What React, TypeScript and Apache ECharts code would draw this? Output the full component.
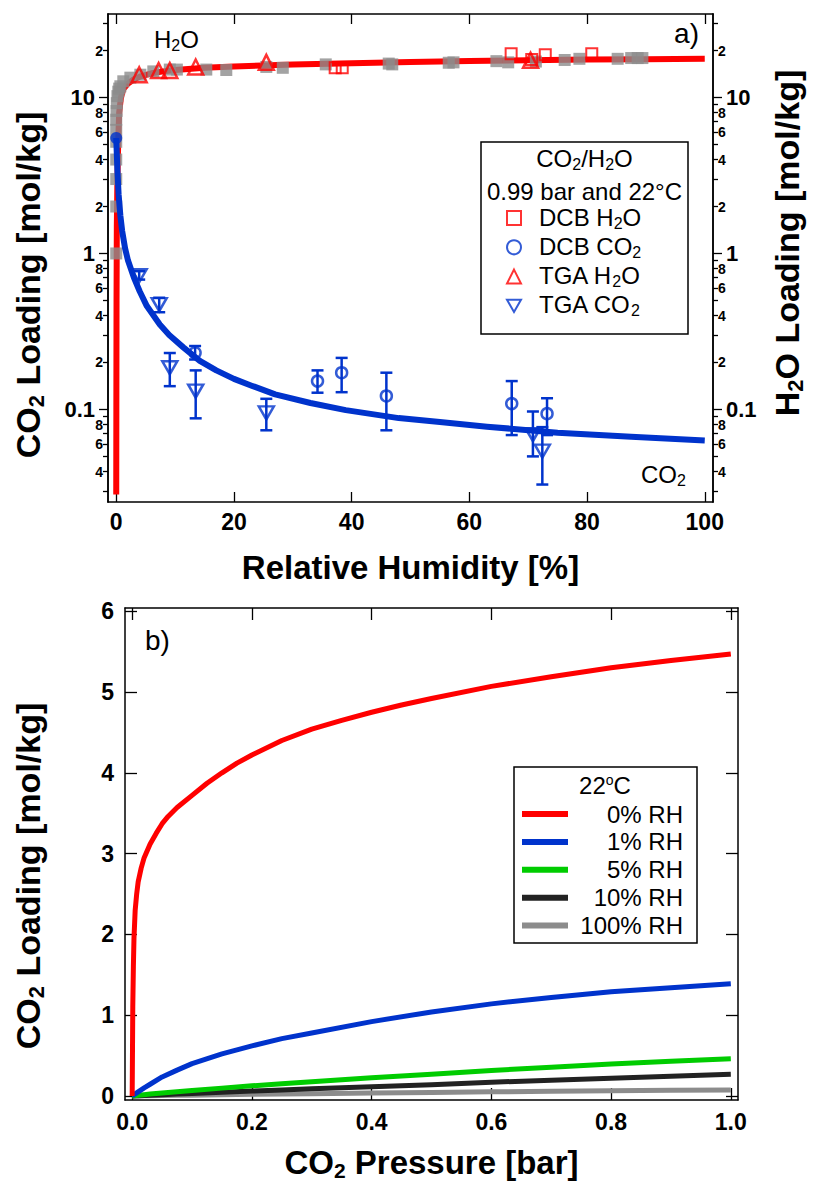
import React, { useEffect, useRef } from 'react';
import * as echarts from 'echarts';

const FONT = '"Liberation Sans", Arial, Helvetica, sans-serif';
const RED = '#ff0000';
const BLUE = '#0033cc';
const GRAY = '#8c8c8c';
const GREEN = '#00cc00';
const BLACK = '#222222';
const DOWN_TRIANGLE = 'path://M0,0L10,0L5,8.66Z';

// ---------- Panel a) ----------
const rhTicks = [0, 20, 40, 60, 80, 100];
const logMajorValues = [0.1, 1, 10];
const logMinorTickValues = [0.03, 0.04, 0.05, 0.06, 0.07, 0.08, 0.09, 0.2, 0.3, 0.4, 0.5, 0.6, 0.7, 0.8, 0.9, 2, 3, 4, 5, 6, 7, 8, 9, 20, 30];
const logMinorLabelValues = [0.04, 0.06, 0.08, 0.2, 0.4, 0.6, 0.8, 2, 4, 6, 8, 20];

const h2oFitRH = [0, 0.02, 0.05, 0.1, 0.2, 0.35, 0.5, 0.8, 1.2, 2, 3, 4, 6, 8, 10, 15, 20, 30, 40, 50, 60, 70, 80, 90, 100];
const h2oFitLoading = [0.0285, 0.1, 0.5, 1.5, 3, 5.5, 8, 10, 11.3, 12.3, 13.1, 13.6, 14.3, 14.7, 15.0, 15.5, 15.8, 16.3, 16.6, 16.9, 17.15, 17.35, 17.5, 17.6, 17.7];

const co2FitRH = [0, 0.1, 0.2, 0.4, 0.7, 1.0, 1.5, 2, 3, 4, 5.2, 7.4, 9, 11.4, 14.2, 17, 20, 23, 27, 33, 39, 48, 55, 63, 75, 87.5, 100];
const co2FitLoading = [5.5, 4.3, 3.4, 2.4, 1.75, 1.4, 1.08, 0.9, 0.7, 0.57, 0.46, 0.35, 0.3, 0.25, 0.205, 0.178, 0.157, 0.142, 0.125, 0.11, 0.099, 0.088, 0.083, 0.0775, 0.071, 0.0668, 0.0632];

const grayRH = [0, 0, 0, 0, 0, 0, 0, 0.05, 0.1, 0.2, 0.35, 0.5, 0.7, 1.2, 2.4, 4.1, 6.3, 9.1, 10.3, 15.3, 18.7, 25.5, 28.3, 35.6, 46.3, 46.9, 56.5, 57.3, 64.6, 66.6, 71.3, 76.2, 78.7, 85.2, 87.5, 88.6, 89.4];
const grayLoading = [1.0, 2.0, 3.0, 4.0, 5.2, 6.2, 7.2, 8.2, 9.2, 10.2, 10.9, 11.4, 11.8, 12.7, 13.4, 14.0, 14.7, 15.1, 15.1, 15.1, 15.0, 15.7, 15.5, 16.3, 16.5, 16.3, 16.7, 16.8, 17.1, 16.8, 17.0, 17.4, 17.7, 17.7, 17.9, 17.9, 17.9];

const dcbH2oRH = [37.2, 38.4, 67.1, 70.6, 72.9, 80.8];
const dcbH2oLoading = [15.5, 15.5, 19.1, 17.5, 18.8, 19.1];

const tgaH2oRH = [3.9, 7.2, 9.1, 13.5, 25.5, 70.4];
const tgaH2oLoading = [14.0, 14.9, 14.9, 15.7, 16.8, 17.3];

const dcbCo2RH = [13.4, 34.2, 38.3, 45.9, 67.2, 73.2];
const dcbCo2Loading = [0.231, 0.152, 0.172, 0.122, 0.109, 0.094];
const dcbCo2Low = [0.209, 0.128, 0.129, 0.0735, 0.0685, 0.0685];
const dcbCo2High = [0.255, 0.178, 0.214, 0.172, 0.152, 0.118];

const tgaCo2RH = [3.9, 7.3, 9.1, 13.5, 25.5, 70.8, 72.4];
const tgaCo2Loading = [0.72, 0.47, 0.185, 0.131, 0.095, 0.069, 0.054];
const tgaCo2Low = [0.68, 0.42, 0.141, 0.0877, 0.0735, 0.05, 0.033];
const tgaCo2High = [0.77, 0.52, 0.23, 0.178, 0.117, 0.097, 0.077];

const co2StartRH = [0];
const co2StartLoading = [5.5];

// ---------- Panel b) ----------
const pressureTicks = [0, 0.2, 0.4, 0.6, 0.8, 1.0];
const loadingTicks = [0, 1, 2, 3, 4, 5, 6];
const pressure0 = [0, 0.001, 0.002, 0.003, 0.005, 0.0075, 0.01, 0.015, 0.02, 0.03, 0.04, 0.05, 0.06, 0.075, 0.1, 0.125, 0.15, 0.175, 0.2, 0.25, 0.3, 0.35, 0.4, 0.45, 0.5, 0.6, 0.7, 0.8, 0.9, 1.0];
const rh0 = [0, 1.1, 1.6, 1.95, 2.3, 2.5, 2.65, 2.82, 2.95, 3.12, 3.25, 3.37, 3.46, 3.57, 3.72, 3.87, 4.0, 4.12, 4.22, 4.4, 4.54, 4.65, 4.75, 4.84, 4.92, 5.07, 5.19, 5.3, 5.39, 5.47];
const pressure = [0, 0.002, 0.005, 0.01, 0.02, 0.03, 0.05, 0.075, 0.1, 0.15, 0.2, 0.25, 0.3, 0.4, 0.5, 0.6, 0.7, 0.8, 0.9, 1.0];
const rh1 = [0, 0.01, 0.025, 0.05, 0.1, 0.145, 0.235, 0.32, 0.4, 0.52, 0.62, 0.71, 0.78, 0.92, 1.04, 1.14, 1.22, 1.29, 1.34, 1.39];
const rh5 = [0, 0.002, 0.004, 0.008, 0.016, 0.023, 0.037, 0.053, 0.068, 0.097, 0.125, 0.15, 0.175, 0.225, 0.27, 0.315, 0.355, 0.395, 0.43, 0.46];
const rh10 = [0, 0.0006, 0.0015, 0.003, 0.006, 0.009, 0.015, 0.023, 0.03, 0.045, 0.06, 0.075, 0.09, 0.115, 0.14, 0.17, 0.195, 0.22, 0.245, 0.27];
const rh100 = [0, 0.0002, 0.0005, 0.001, 0.002, 0.003, 0.005, 0.0075, 0.01, 0.015, 0.02, 0.024, 0.028, 0.036, 0.044, 0.051, 0.058, 0.064, 0.07, 0.075];
const rhSeriesNames = ['0% RH', '1% RH', '5% RH', '10% RH', '100% RH'];
const rhSeriesX = [pressure0, pressure, pressure, pressure, pressure];
const rhSeriesValues = [rh0, rh1, rh5, rh10, rh100];
const rhSeriesColors = [RED, BLUE, GREEN, BLACK, GRAY];

function zip(xs: number[], ys: number[]) {
  return xs.map((x, i) => [x, ys[i]]);
}

function rich(size: number, bold = false, padL = 0, padR = 0) {
  const w = bold ? 'bold' : 'normal';
  const base = { fontWeight: w, fontFamily: FONT, color: '#000', verticalAlign: 'top' };
  return {
    t: { ...base, fontSize: size, lineHeight: size },
    tl: { ...base, fontSize: size, lineHeight: size, padding: [0, 0, 0, padL] },
    tr: { ...base, fontSize: size, lineHeight: size, padding: [0, padR, 0, 0] },
    tp: { ...base, fontSize: size, lineHeight: size, padding: [0, 0, 0, 13] },
    s: { ...base, fontSize: Math.round(size * 0.65), padding: [Math.round(size * 0.42), 0, 0, 0] },
    u: { ...base, fontSize: Math.round(size * 0.6), lineHeight: Math.round(size * 0.45) },
    r: { ...base, fontSize: size, lineHeight: size, width: 110, align: 'right' },
  };
}

const majorFmt = (v: number) => (v >= 1 ? String(Math.round(v)) : String(+v.toPrecision(1)));
const minorFmt = (v: number) => String(Math.round(v / Math.pow(10, Math.floor(Math.log10(v) + 1e-9))));

function errorBarSeries(name: string, xs: number[], ys: number[], lo: number[], hi: number[]) {
  return {
    type: 'custom',
    name,
    xAxisIndex: 0,
    yAxisIndex: 0,
    z: 5,
    data: xs.map((x, i) => [x, ys[i], lo[i], hi[i]]),
    encode: { x: 0, y: [2, 3] },
    renderItem: (params: any, api: any) => {
      const x = api.value(0);
      const pLo = api.coord([x, api.value(2)]);
      const pHi = api.coord([x, api.value(3)]);
      const cap = 6;
      const style = { stroke: BLUE, lineWidth: 2.5 };
      return {
        type: 'group',
        children: [
          { type: 'line', shape: { x1: pLo[0], y1: pLo[1], x2: pHi[0], y2: pHi[1] }, style },
          { type: 'line', shape: { x1: pLo[0] - cap, y1: pLo[1], x2: pLo[0] + cap, y2: pLo[1] }, style },
          { type: 'line', shape: { x1: pHi[0] - cap, y1: pHi[1], x2: pHi[0] + cap, y2: pHi[1] }, style },
        ],
      };
    },
  };
}

const axisLine = { show: true, onZero: false, lineStyle: { color: '#000', width: 1.5 } };
const tickLine = { color: '#000', width: 1.3 };
const LOG_MIN = 0.0255;
const LOG_MAX = 34.3;
const TICK_FONT = 23;
const TITLE_FONT = 34;

function logAxis(position: string, major: boolean, withName: boolean) {
  const ax: any = {
    type: 'log',
    gridIndex: 0,
    position,
    logBase: 10,
    min: LOG_MIN,
    max: LOG_MAX,
    splitLine: { show: false },
    minorTick: { show: false },
    axisLine,
    axisTick: {
      show: true,
      inside: false,
      length: major ? 9 : 5,
      customValues: major ? logMajorValues : logMinorTickValues,
      lineStyle: tickLine,
    },
    axisLabel: {
      show: true,
      customValues: major ? logMajorValues : logMinorLabelValues,
      formatter: major ? majorFmt : minorFmt,
      fontSize: major ? 22 : 14,
      fontWeight: 'bold',
      fontFamily: FONT,
      color: '#000',
      margin: major ? 13 : 5,
    },
  };
  if (withName) {
    ax.name =
      position === 'left'
        ? '{t|CO}{s|2}{tr| Loading [mol/kg]}'
        : '{tl|H}{s|2}{t|O Loading [mol/kg]}';
    ax.nameLocation = 'middle';
    ax.nameRotate = 90;
    ax.nameGap = position === 'left' ? 61 : 57;
    ax.nameTextStyle = { rich: rich(TITLE_FONT, true, 30, 54) };
  }
  return ax;
}

const legendANames: Record<string, string> = {
  'DCB H2O': '{tp|DCB H}{s|2}{t|O}',
  'DCB CO2': '{tp|DCB CO}{s|2}',
  'TGA H2O': '{tp|TGA H}{s|2}{t|O}',
  'TGA CO2': '{tp|TGA CO}{s|2}',
};

function buildOption(): any {
  const hollow = (c: string) => ({ color: 'rgba(255,255,255,0)', borderColor: c, borderWidth: 2.5 });
  const tickLabel = { fontSize: TICK_FONT, fontWeight: 'bold', fontFamily: FONT, color: '#000' };
  return {
    animation: false,
    backgroundColor: '#fff',
    grid: [
      { left: 108, top: 14, width: 608, height: 488 },
      { left: 125, top: 608, width: 613, height: 492 },
    ],
    xAxis: [
      {
        type: 'value', gridIndex: 0, position: 'bottom', min: -1.4, max: 101.4,
        splitLine: { show: false }, axisLine,
        axisTick: { show: true, inside: true, length: 10, customValues: rhTicks, lineStyle: tickLine },
        axisLabel: { ...tickLabel, customValues: rhTicks, margin: 8 },
        name: 'Relative Humidity [%]', nameLocation: 'middle', nameGap: 49,
        nameTextStyle: { fontSize: 33, fontWeight: 'bold', fontFamily: FONT, color: '#000' },
      },
      {
        type: 'value', gridIndex: 0, position: 'top', min: -1.4, max: 101.4,
        splitLine: { show: false }, axisLine,
        axisTick: { show: true, inside: true, length: 10, customValues: rhTicks, lineStyle: tickLine },
        axisLabel: { show: false },
      },
      {
        type: 'value', gridIndex: 1, position: 'bottom', min: -0.012, max: 1.012,
        splitLine: { show: false }, axisLine,
        axisTick: { show: true, inside: true, length: 12, customValues: pressureTicks, lineStyle: tickLine },
        axisLabel: { ...tickLabel, customValues: pressureTicks, formatter: (v: number) => v.toFixed(1), margin: 10 },
        name: '{t|CO}{s|2}{t| Pressure [bar]}', nameLocation: 'middle', nameGap: 46,
        nameTextStyle: { rich: rich(33, true) },
      },
      {
        type: 'value', gridIndex: 1, position: 'top', min: -0.012, max: 1.012,
        splitLine: { show: false }, axisLine,
        axisTick: { show: true, inside: true, length: 12, customValues: pressureTicks, lineStyle: tickLine },
        axisLabel: { show: false },
      },
    ],
    yAxis: [
      logAxis('left', true, true),
      logAxis('left', false, false),
      logAxis('right', true, true),
      logAxis('right', false, false),
      {
        type: 'value', gridIndex: 1, position: 'left', min: -0.05, max: 6.04,
        splitLine: { show: false }, axisLine,
        axisTick: { show: true, inside: true, length: 12, customValues: loadingTicks, lineStyle: tickLine },
        axisLabel: { ...tickLabel, customValues: loadingTicks, margin: 11 },
        name: '{t|CO}{s|2}{tr| Loading [mol/kg]}', nameLocation: 'middle', nameRotate: 90, nameGap: 78,
        nameTextStyle: { rich: rich(TITLE_FONT, true, 0, 44) },
      },
      {
        type: 'value', gridIndex: 1, position: 'right', min: -0.05, max: 6.04,
        splitLine: { show: false }, axisLine,
        axisTick: { show: true, inside: true, length: 12, customValues: loadingTicks, lineStyle: tickLine },
        axisLabel: { show: false },
      },
    ],
    legend: [
      {
        data: ['DCB H2O', 'DCB CO2', 'TGA H2O', 'TGA CO2'],
        orient: 'vertical', left: 506, top: 205, padding: 0,
        itemWidth: 14, itemHeight: 14, itemGap: 3.3, selectedMode: false,
        formatter: (name: string) => legendANames[name] || name,
        textStyle: { fontSize: 24, fontFamily: FONT, color: '#000', rich: rich(24) },
      },
      {
        data: rhSeriesNames.map((n) => ({ name: n, icon: 'rect' })),
        orient: 'vertical', left: 522, top: 802, padding: 0,
        itemWidth: 46, itemHeight: 6, itemGap: 3.9, selectedMode: false,
        formatter: (name: string) => '{r|' + name + '}',
        textStyle: { fontSize: 24, fontFamily: FONT, color: '#000', rich: rich(24) },
      },
    ],
    graphic: [
      { type: 'rect', z: 1, shape: { x: 481, y: 142, width: 207, height: 192 }, style: { fill: 'none', stroke: '#000', lineWidth: 1.5 } },
      { type: 'text', z: 10, x: 584.5, y: 159, style: { text: '{t|CO}{s|2}{t|/H}{s|2}{t|O}', rich: rich(24), align: 'center', verticalAlign: 'middle' } },
      { type: 'text', z: 10, x: 584.5, y: 191, style: { text: '{t|0.99 bar and 22°C}', rich: rich(24), align: 'center', verticalAlign: 'middle' } },
      { type: 'text', z: 10, x: 154, y: 40, style: { text: '{t|H}{s|2}{t|O}', rich: rich(24), align: 'left', verticalAlign: 'middle' } },
      { type: 'text', z: 10, x: 699, y: 33, style: { text: 'a)', font: '28px ' + FONT, fill: '#000', align: 'right', verticalAlign: 'middle' } },
      { type: 'text', z: 10, x: 641, y: 475, style: { text: '{t|CO}{s|2}', rich: rich(24), align: 'left', verticalAlign: 'middle' } },
      { type: 'rect', z: 1, shape: { x: 514, y: 767, width: 183, height: 176 }, style: { fill: 'none', stroke: '#000', lineWidth: 1.5 } },
      { type: 'text', z: 10, x: 605, y: 785, style: { text: '{t|22}{u|o}{t|C}', rich: rich(24), align: 'center', verticalAlign: 'middle' } },
      { type: 'text', z: 10, x: 145, y: 640, style: { text: 'b)', font: '28px ' + FONT, fill: '#000', align: 'left', verticalAlign: 'middle' } },
    ],
    series: [
      {
        type: 'line', name: 'H2O fit', xAxisIndex: 0, yAxisIndex: 0, data: zip(h2oFitRH, h2oFitLoading),
        symbol: 'none', lineStyle: { color: RED, width: 6, join: 'round' }, itemStyle: { color: RED }, z: 2,
      },
      {
        type: 'scatter', name: 'H2O literature', xAxisIndex: 0, yAxisIndex: 0, data: zip(grayRH, grayLoading),
        symbol: 'rect', symbolSize: 12, itemStyle: { color: GRAY }, z: 3,
      },
      {
        type: 'line', name: 'CO2 fit', xAxisIndex: 0, yAxisIndex: 0, data: zip(co2FitRH, co2FitLoading),
        symbol: 'none', lineStyle: { color: BLUE, width: 6, join: 'round' }, itemStyle: { color: BLUE }, z: 4,
      },
      {
        type: 'scatter', name: 'CO2 start', xAxisIndex: 0, yAxisIndex: 0, data: zip(co2StartRH, co2StartLoading),
        symbol: 'circle', symbolSize: 12, itemStyle: { color: BLUE }, z: 4,
      },
      errorBarSeries('DCB CO2 err', dcbCo2RH, dcbCo2Loading, dcbCo2Low, dcbCo2High),
      errorBarSeries('TGA CO2 err', tgaCo2RH, tgaCo2Loading, tgaCo2Low, tgaCo2High),
      {
        type: 'scatter', name: 'DCB H2O', xAxisIndex: 0, yAxisIndex: 0, data: zip(dcbH2oRH, dcbH2oLoading),
        symbol: 'rect', symbolSize: 11, itemStyle: { color: 'rgba(255,255,255,0)', borderColor: RED, borderWidth: 2 }, z: 6,
      },
      {
        type: 'scatter', name: 'DCB CO2', xAxisIndex: 0, yAxisIndex: 0, data: zip(dcbCo2RH, dcbCo2Loading),
        symbol: 'circle', symbolSize: 11, itemStyle: hollow(BLUE), z: 6,
      },
      {
        type: 'scatter', name: 'TGA H2O', xAxisIndex: 0, yAxisIndex: 0, data: zip(tgaH2oRH, tgaH2oLoading),
        symbol: 'triangle', symbolSize: 15, itemStyle: hollow(RED), z: 6,
      },
      {
        type: 'scatter', name: 'TGA CO2', xAxisIndex: 0, yAxisIndex: 0, data: zip(tgaCo2RH, tgaCo2Loading),
        symbol: DOWN_TRIANGLE, symbolSize: [15, 13], itemStyle: hollow(BLUE), z: 6,
      },
      ...rhSeriesNames.map((n, i) => ({
        type: 'line', name: n, xAxisIndex: 2, yAxisIndex: 4, data: zip(rhSeriesX[i], rhSeriesValues[i]),
        symbol: 'none', lineStyle: { color: rhSeriesColors[i], width: 5, join: 'round' },
        itemStyle: { color: rhSeriesColors[i] }, z: 10 - i,
      })),
    ],
  };
}

export default function App() {
  const ref = useRef<HTMLDivElement>(null);
  useEffect(() => {
    if (!ref.current) return;
    const chart = echarts.init(ref.current, undefined, { renderer: 'svg' });
    chart.setOption(buildOption());
    return () => chart.dispose();
  }, []);
  return (
    <div
      ref={ref}
      style={{ position: 'absolute', left: 0, top: 0, width: 814, height: 1186, background: '#fff' }}
    />
  );
}
